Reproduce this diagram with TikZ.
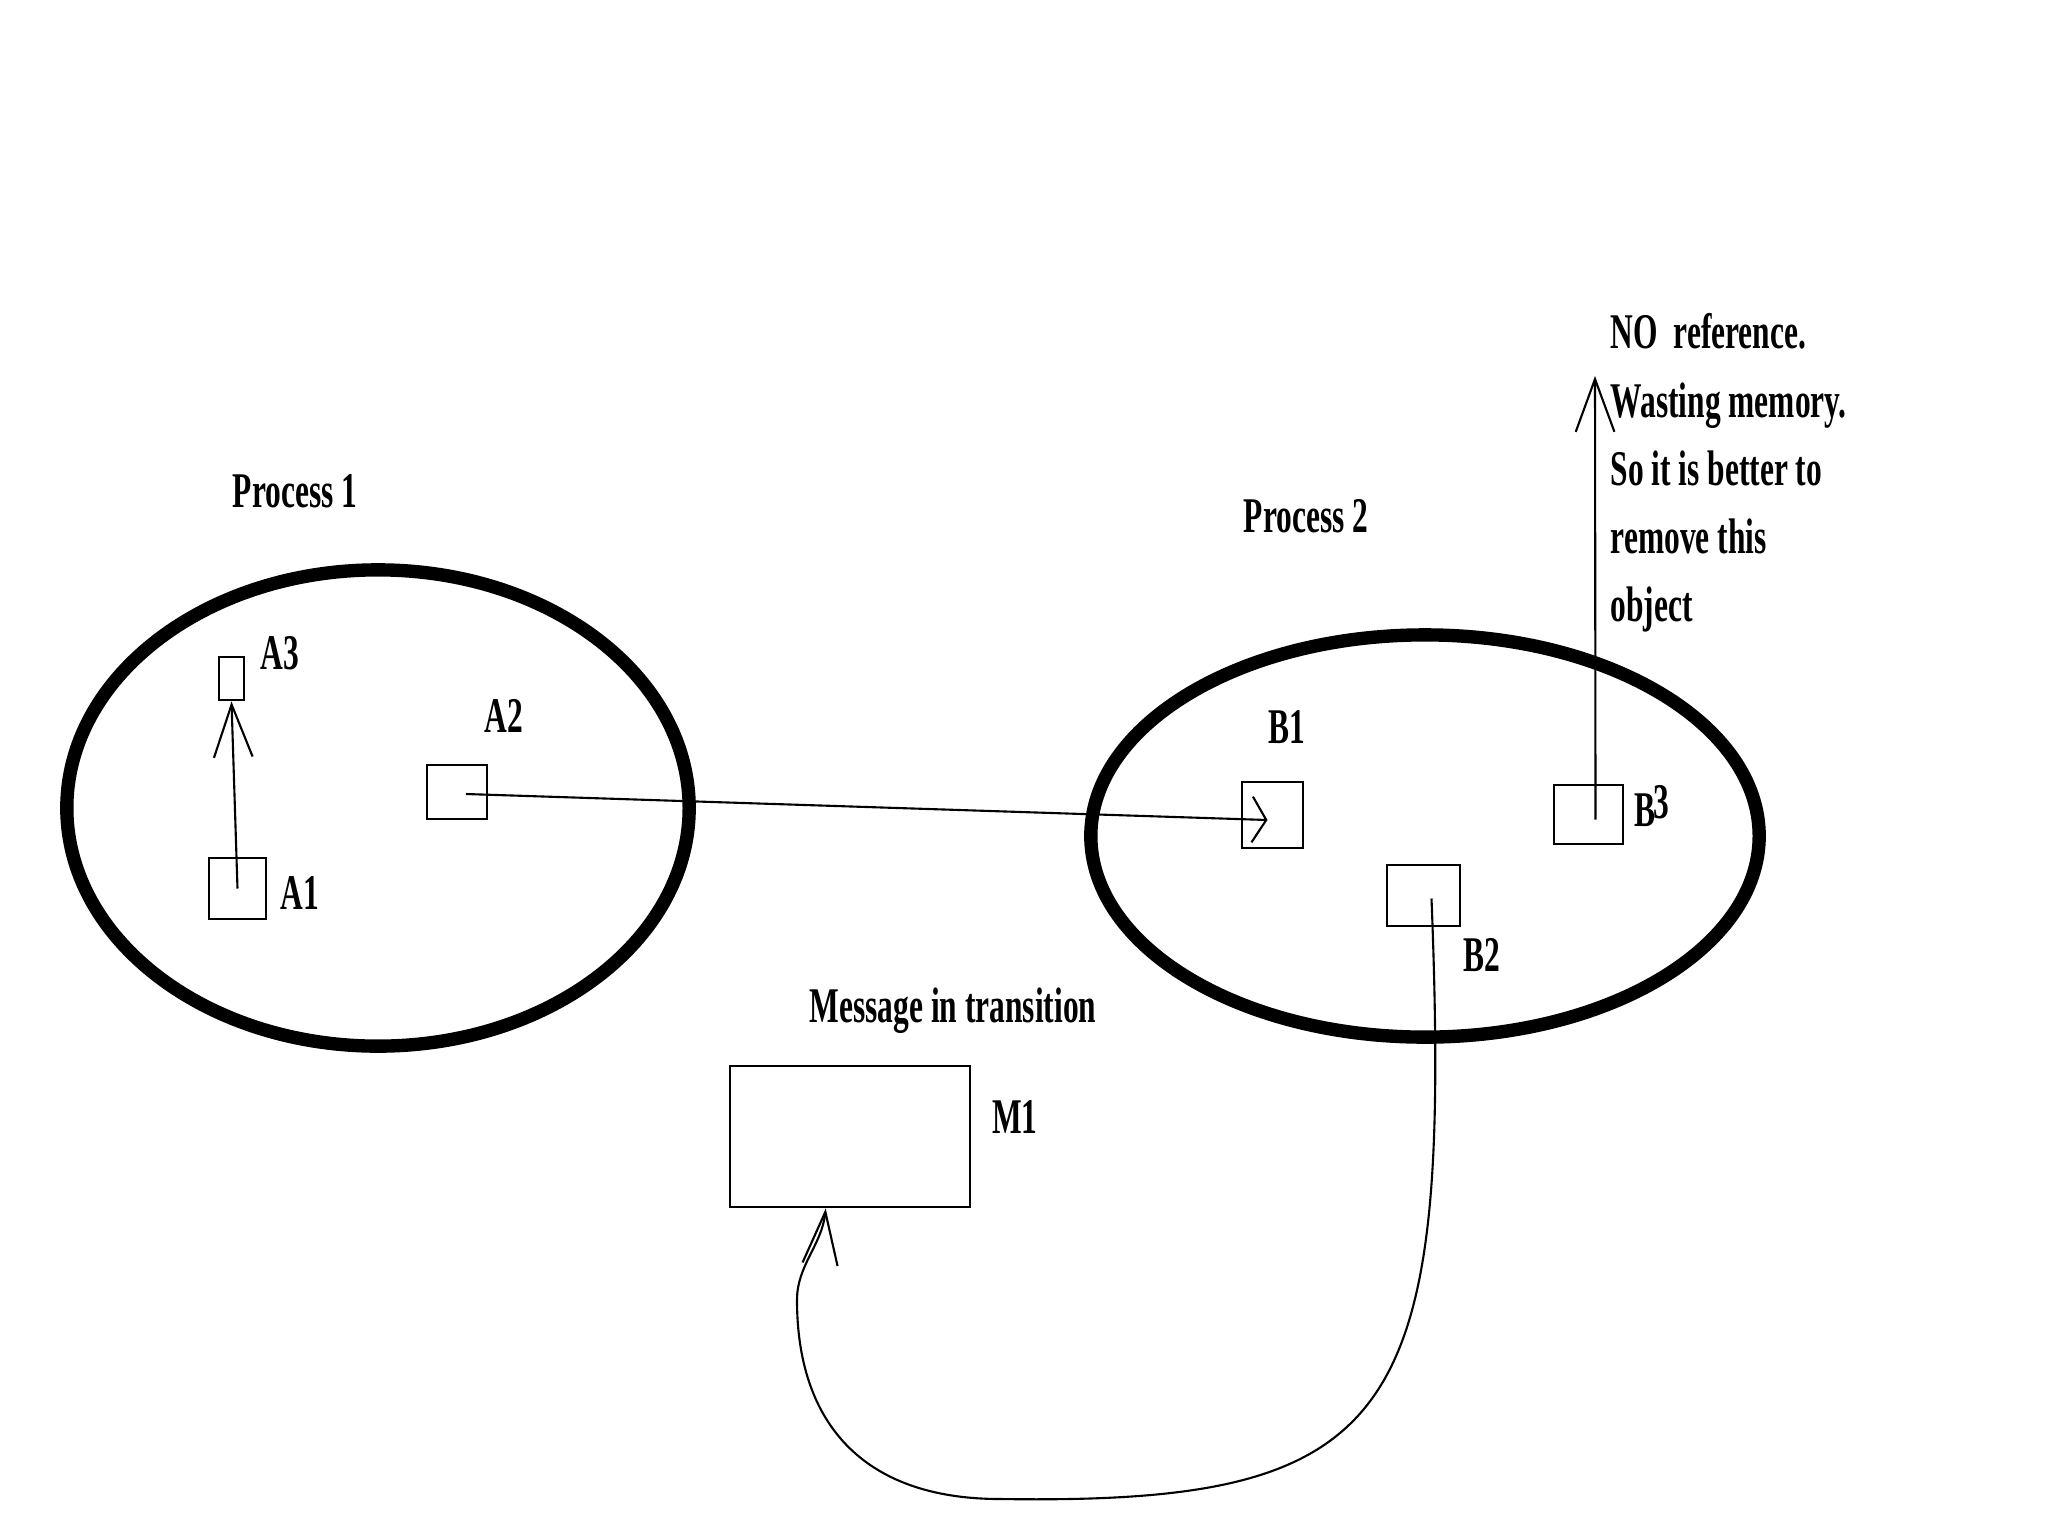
\documentclass[tikz,border=0pt]{standalone}
\usepackage{fontspec}
\setmainfont{Liberation Serif}
\newfontfamily\lblfont[FakeStretch=0.63]{Liberation Serif}
\usetikzlibrary{arrows.meta,shapes.geometric,calc}
\begin{document}
\begin{tikzpicture}[x=0.01cm,y=-0.01cm,
  proc/.style={draw, line width=3.8pt, ellipse, inner sep=0pt},
  obj/.style={draw, line width=0.8pt, rectangle, inner sep=0pt},
  lbl/.style={font=\lblfont\bfseries\fontsize{14.2pt}{19.4pt}\selectfont, inner sep=0pt},
  conn/.style={line width=0.6pt},
  barb/.style={-{Straight Barb[length=15pt,width=11pt]}}
]
\useasboundingbox[fill=white] (0,0) rectangle (2048,1536);

% processes
\node[proc, minimum width=6.22cm, minimum height=4.76cm] (P1) at (378,808) {};
\node[proc, minimum width=6.68cm, minimum height=4.02cm] (P2) at (1425,836) {};

% objects
\node[obj, minimum width=0.25cm, minimum height=0.43cm] (A3) at (231.5,678.5) {};
\node[obj, minimum width=0.57cm, minimum height=0.61cm] (A1) at (237.5,888.5) {};
\node[obj, minimum width=0.60cm, minimum height=0.54cm] (A2) at (457,792) {};
\node[obj, minimum width=0.61cm, minimum height=0.66cm] (B1) at (1272.5,815) {};
\node[obj, minimum width=0.69cm, minimum height=0.59cm] (B3) at (1588.5,814.5) {};
\node[obj, minimum width=0.73cm, minimum height=0.61cm] (B2) at (1423.5,895.5) {};
\node[obj, minimum width=2.40cm, minimum height=1.41cm] (M1) at (850,1136.5) {};

% labels
\node[lbl] (lp1) at (295,491) {Process 1};
\node[lbl] (lp2) at (1306,516) {Process 2};
\node[lbl] (la3) at (280,653) {A3};
\node[lbl] (la2) at (504,716) {A2};
\node[lbl] (la1) at (300,893) {A1};
\node[lbl] (lb1) at (1287,727) {B1};
\node[lbl] (lb3) at (1652,806) {B\kern-0.5pt\raisebox{0.35ex}{3}};
\node[lbl] (lb2) at (1482,955) {B2};
\node[lbl] (lmsg) at (953,1011) {Message in transition};
\node[lbl] (lm1) at (1015,1117) {M1};
\node[lbl, align=left, anchor=west] (note) at (1610,473)
  {NO\ \ reference.\\Wasting memory.\\So it is better to\\remove this\\object};

% connectors
\coordinate (noref) at (1595,376);
\coordinate (m1in) at ($(M1.south west)!0.4!(M1.south east)$);

\draw[conn, barb] (A1.center) -- (A3.south);
\draw[conn, -{Straight Barb[length=4pt,width=13pt]}] ($(A2.center)+(9,2)$) -- ($(B1.center)+(-5,5)$);
\draw[conn, barb] ($(B3.center)+(7,5)$) -- (noref);
\draw[conn, -{Straight Barb[length=15pt,width=10pt]}] ($(B2.center)+(8,3)$)
  .. controls (1452,1420) and (1400,1505) .. (1000,1499)
  .. controls (860,1499) and (797,1420) .. (797,1300)
  .. controls (797,1265) and (822,1245) .. (m1in);
\end{tikzpicture}
\end{document}
